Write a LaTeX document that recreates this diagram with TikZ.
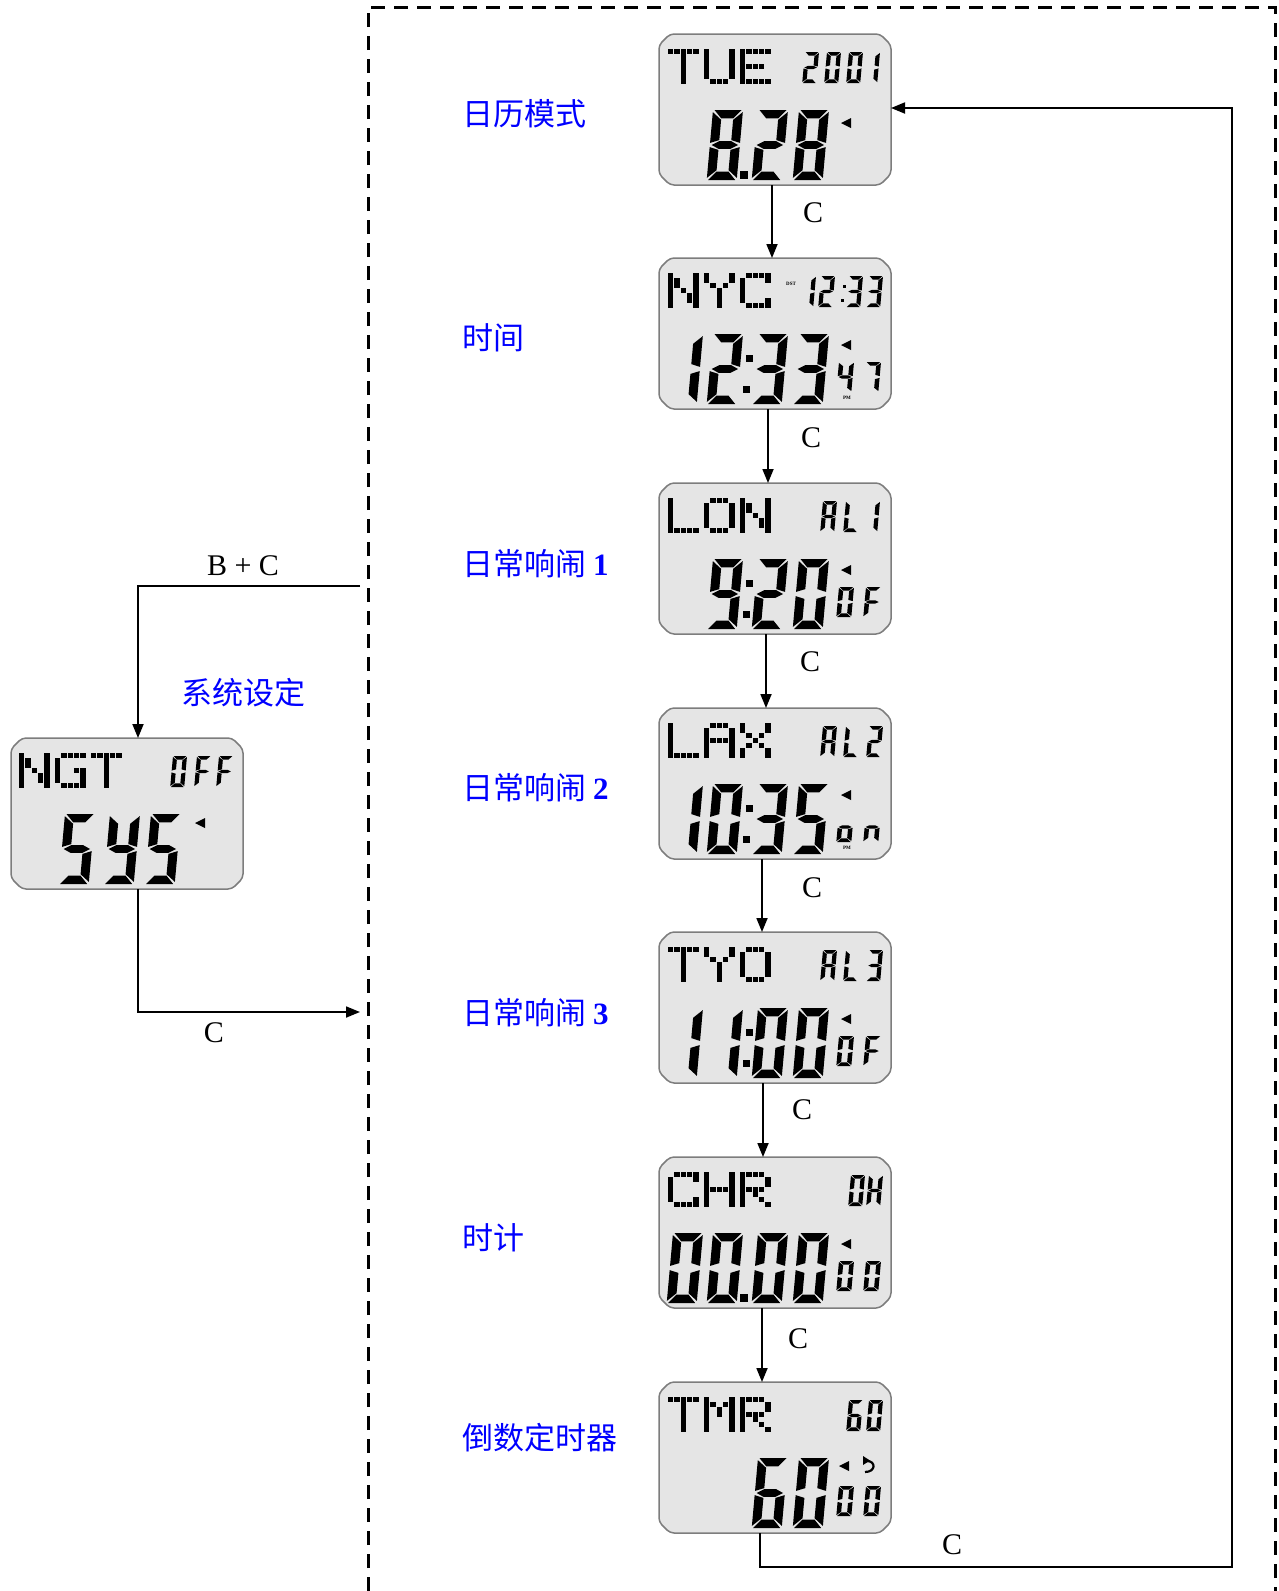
\documentclass[tikz,border=0pt]{standalone}
\usepackage{fontspec}
\setmainfont{Liberation Serif}
\newfontfamily\cjk{Noto Sans CJK SC}
\usetikzlibrary{arrows.meta}
\definecolor{lcdbg}{RGB}{229,229,229}
\definecolor{lcdline}{RGB}{125,125,125}
\definecolor{lblue}{RGB}{0,0,255}

% ---------- seven segment pieces (unit: width 1, height 2, y down)
\newcommand\sgA{\fill (0.05,0) -- (0.95,0) -- (0.7,0.24) -- (0.3,0.24) -- cycle;}
\newcommand\sgB{\fill (1,0.06) -- (1,0.94) -- (0.7,0.86) -- (0.7,0.28) -- cycle;}
\newcommand\sgC{\fill (1,1.06) -- (1,1.94) -- (0.7,1.72) -- (0.7,1.14) -- cycle;}
\newcommand\sgD{\fill (0.05,2) -- (0.95,2) -- (0.7,1.76) -- (0.3,1.76) -- cycle;}
\newcommand\sgE{\fill (0,1.06) -- (0.3,1.14) -- (0.3,1.72) -- (0,1.94) -- cycle;}
\newcommand\sgF{\fill (0,0.06) -- (0.3,0.28) -- (0.3,0.86) -- (0,0.94) -- cycle;}
\newcommand\sgG{\fill (0.06,1) -- (0.3,0.89) -- (0.7,0.89) -- (0.94,1) -- (0.7,1.11) -- (0.3,1.11) -- cycle;}
\newcommand\defdg[2]{\expandafter\def\csname dg#1\endcsname{#2}}
\defdg{0}{A,B,C,D,E,F}
\defdg{1}{B,C}
\defdg{2}{A,B,G,E,D}
\defdg{3}{A,B,G,C,D}
\defdg{4}{F,G,B,C}
\defdg{5}{A,F,G,C,D}
\defdg{6}{A,F,G,E,C,D}
\defdg{7}{A,B,C}
\defdg{8}{A,B,C,D,E,F,G}
\defdg{9}{A,B,C,D,F,G}
\defdg{F}{A,F,G,E}
\defdg{H}{F,B,G,E,C}
\defdg{L}{F,E,D}
\defdg{A}{A,B,C,E,F,G}
\defdg{o}{G,C,D,E}
\defdg{n}{E,G,C}
\defdg{Y}{F,B,G,C,D}
% \sd{x}{y}{w}{h}{char}
\newcommand\sd[5]{%
  \expandafter\let\expandafter\cursg\csname dg#5\endcsname
  \begin{scope}[shift={(#1,#2)},xslant=0.09,xscale=#3,yscale={#4/2}]
    \foreach \ssx in \cursg {\csname sg\ssx\endcsname}
  \end{scope}}
\newcommand\bigd[2]{\sd{#1}{76}{30}{70}{#2}}
\newcommand\smt[2]{\sd{#1}{18}{14}{31}{#2}}
\newcommand\smr[2]{\sd{#1}{104}{15}{30}{#2}}
\newcommand\bcolon{\fill (87,97) rectangle ++(7,7); \fill (84,128) rectangle ++(7,7);}
\newcommand\bdot{\fill (81,137) rectangle ++(8,8);}
\newcommand\mk[2]{\fill ({#1},{#2+5}) -- ({#1+10},{#2}) -- ({#1+10},{#2+10}) -- cycle;}

% ---------- dot matrix letters (5x7)
\def\dmT{{1,2,3,4,5},{3},{3},{3},{3},{3},{3}}
\def\dmU{{1,5},{1,5},{1,5},{1,5},{1,5},{1,5},{2,3,4}}
\def\dmE{{1,2,3,4,5},{1},{1},{1,2,3,4},{1},{1},{1,2,3,4,5}}
\def\dmN{{1,5},{1,2,5},{1,2,5},{1,3,5},{1,4,5},{1,4,5},{1,5}}
\def\dmY{{1,5},{1,5},{2,4},{3},{3},{3},{3}}
\def\dmC{{2,3,4,5},{1,5},{1},{1},{1},{1,5},{2,3,4,5}}
\def\dmL{{1},{1},{1},{1},{1},{1},{1,2,3,4,5}}
\def\dmO{{2,3,4},{1,5},{1,5},{1,5},{1,5},{1,5},{2,3,4}}
\def\dmA{{2,3,4},{1,5},{1,5},{1,2,3,4,5},{1,5},{1,5},{1,5}}
\def\dmX{{1,5},{1,5},{2,4},{3},{2,4},{1,5},{1,5}}
\def\dmR{{1,2,3,4},{1,5},{1,5},{1,2,3,4},{1,3},{1,4},{1,5}}
\def\dmH{{1,5},{1,5},{1,5},{1,2,3,4,5},{1,5},{1,5},{1,5}}
\def\dmM{{1,5},{1,2,4,5},{1,3,5},{1,3,5},{1,5},{1,5},{1,5}}
\def\dmG{{2,3,4,5},{1},{1},{1,4,5},{1,5},{1,5},{2,3,4,5}}
\newcommand\dmchar[3]{%
  \expandafter\let\expandafter\dmcur\csname dm#3\endcsname
  \foreach \dmrow [count=\dmr] in \dmcur {%
    \foreach \dmc in \dmrow {\fill ({#1+(\dmc-1)*6.3},{#2+(\dmr-1)*5}) rectangle ++(5.4,4.5);}}}
\newcommand\dmtext[3]{\foreach \dml [count=\dmi] in {#3} {\dmchar{#1+(\dmi-1)*36}{#2}{\dml}}}

\tikzset{
  lcdframe/.style={fill=lcdbg, draw=lcdline, line width=1.5pt, rounded corners=4pt},
  lcdn/.style={rectangle, minimum width=232pt, minimum height=151pt, inner sep=0pt, outer sep=0pt},
  arr/.style={line width=1.8pt, -{Triangle[length=14pt,width=11pt]}},
  frame/.style={line width=3pt, dash pattern=on 14pt off 9pt},
  keylbl/.style={font=\fontsize{30}{34}\selectfont, inner sep=0pt},
  modelbl/.style={font=\fontsize{31}{35}\selectfont\cjk, text=lblue, inner sep=0pt, anchor=west},
  tiny/.style={font=\fontsize{5}{5}\selectfont\bfseries, inner sep=0pt}
}
\newcommand\lcd[3]{%
  \draw[lcdframe] ({#2+11},{#3}) -- ({#2+221},{#3}) -- ({#2+232},{#3+11}) -- ({#2+232},{#3+140})
    -- ({#2+221},{#3+151}) -- ({#2+11},{#3+151}) -- ({#2},{#3+140}) -- ({#2},{#3+11}) -- cycle;
  \node[lcdn] (#1) at ({#2+116},{#3+75.5}) {};}

\begin{document}
\begin{tikzpicture}[x=1pt,y=-1pt]
\useasboundingbox (0,0) rectangle (1278,1591);
\fill[white] (0,0) rectangle (1278,1591);

% dashed frame
\draw[frame] (368,1591) -- (368,7) -- (1275,7) -- (1275,1591);

% ---------- displays
\lcd{d1}{659}{34}
\begin{scope}[shift={(659,34)}]
  \dmtext{9}{15}{T,U,E}
  \smt{146}{2}\smt{168}{0}\smt{190}{0}\smt{207}{1}
  \bigd{54}{8}\bdot\bigd{99}{2}\bigd{140}{8}
  \mk{182}{84}
\end{scope}

\lcd{d2}{659}{258}
\begin{scope}[shift={(659,258)}]
  \dmtext{9}{15}{N,Y,C}
  \node[tiny] (dst) at (132,26) {DST};
  \smt{143}{1}\smt{162}{2}
  \fill (184,27) rectangle ++(3,3); \fill (182,41) rectangle ++(3,3);
  \smt{190}{3}\smt{210}{3}
  \bigd{14}{1}\bigd{54}{2}\bcolon\bigd{99}{3}\bigd{140}{3}
  \mk{182}{82}
  \smr{180}{4}\smr{207}{7}
  \node[tiny] (pm1) at (188,140) {PM};
\end{scope}

\lcd{d3}{659}{483}
\begin{scope}[shift={(659,483)}]
  \dmtext{9}{15}{L,O,N}
  \smt{164}{A}\smt{187}{L}\smt{207}{1}
  \bigd{54}{9}\bcolon\bigd{99}{2}\bigd{140}{0}
  \mk{182}{82}
  \smr{180}{0}\smr{207}{F}
\end{scope}

\lcd{d4}{659}{708}
\begin{scope}[shift={(659,708)}]
  \dmtext{9}{15}{L,A,X}
  \smt{164}{A}\smt{187}{L}\smt{210}{2}
  \bigd{14}{1}\bigd{54}{0}\bcolon\bigd{99}{3}\bigd{140}{5}
  \mk{182}{82}
  \smr{180}{o}\smr{207}{n}
  \node[tiny] (pm2) at (188,140) {PM};
\end{scope}

\lcd{d5}{659}{932}
\begin{scope}[shift={(659,932)}]
  \dmtext{9}{15}{T,Y,O}
  \smt{164}{A}\smt{187}{L}\smt{210}{3}
  \bigd{14}{1}\bigd{54}{1}\bcolon\bigd{99}{0}\bigd{140}{0}
  \mk{182}{82}
  \smr{180}{0}\smr{207}{F}
\end{scope}

\lcd{d6}{659}{1157}
\begin{scope}[shift={(659,1157)}]
  \dmtext{9}{15}{C,H,R}
  \smt{192}{0}\smt{210}{H}
  \bigd{14}{0}\bigd{54}{0}\bdot\bigd{99}{0}\bigd{140}{0}
  \mk{182}{82}
  \smr{180}{0}\smr{207}{0}
\end{scope}

\lcd{d7}{659}{1382}
\begin{scope}[shift={(659,1382)}]
  \dmtext{9}{15}{T,M,R}
  \smt{190}{6}\smt{210}{0}
  \bigd{99}{6}\bigd{140}{0}
  \mk{180}{79}
  \fill (204,74) -- (211,78.5) -- (204,83) -- cycle;
  \draw[line width=2.2pt] (208,79) .. controls (217,79) and (217,90) .. (206,90);
  \smr{180}{0}\smr{207}{0}
\end{scope}

\lcd{sys}{11}{738}
\begin{scope}[shift={(11,738)}]
  \dmtext{8}{15}{N,G,T}
  \smt{162}{0}\smt{186}{F}\smt{208}{F}
  \bigd{54}{5}\bigd{99}{Y}\bigd{140}{5}
  \mk{184}{80}
\end{scope}

% ---------- mode labels
\node[modelbl] (l1) at (462,114) {日历模式};
\node[modelbl] (l2) at (462,338) {时间};
\node[modelbl] (l3) at (462,564) {日常响闹 {\rmfamily\bfseries 1}};
\node[modelbl] (l4) at (462,788) {日常响闹 {\rmfamily\bfseries 2}};
\node[modelbl] (l5) at (462,1013) {日常响闹 {\rmfamily\bfseries 3}};
\node[modelbl] (l6) at (462,1238) {时计};
\node[modelbl] (l7) at (462,1438) {倒数定时器};
\node[modelbl, anchor=center] (l0) at (243,693) {系统设定};

% ---------- connectors
\draw[arr] ([xshift=-3pt]d1.south) -- ([xshift=-3pt]d2.north);
\draw[arr] ([xshift=-7pt]d2.south) -- ([xshift=-7pt]d3.north);
\draw[arr] ([xshift=-9pt]d3.south) -- ([xshift=-9pt]d4.north);
\draw[arr] ([xshift=-13pt]d4.south) -- ([xshift=-13pt]d5.north);
\draw[arr] ([xshift=-12pt]d5.south) -- ([xshift=-12pt]d6.north);
\draw[arr] ([xshift=-13pt]d6.south) -- ([xshift=-13pt]d7.north);
\coordinate (lbr) at (1232,1567);
\coordinate (ltr) at (1232,108);
\draw[arr] ([xshift=-15pt]d7.south) |- (lbr) -- (ltr) -- (d1.east |- ltr);

\coordinate (bcs) at (360,586);
\coordinate (ce) at (360,1012);
\draw[arr] (bcs) -| ([xshift=11pt]sys.north);
\draw[arr] ([xshift=11pt]sys.south) |- (ce);

% ---------- key labels
\node[keylbl] (k1) at (813,213) {C};
\node[keylbl] (k2) at (811,438) {C};
\node[keylbl] (k3) at (810,662) {C};
\node[keylbl] (k4) at (812,888) {C};
\node[keylbl] (k5) at (802,1110) {C};
\node[keylbl] (k6) at (798,1339) {C};
\node[keylbl] (k7) at (952,1545) {C};
\node[keylbl] (k8) at (214,1033) {C};
\node[keylbl] (k9) at (243,566) {B + C};
\end{tikzpicture}
\end{document}
